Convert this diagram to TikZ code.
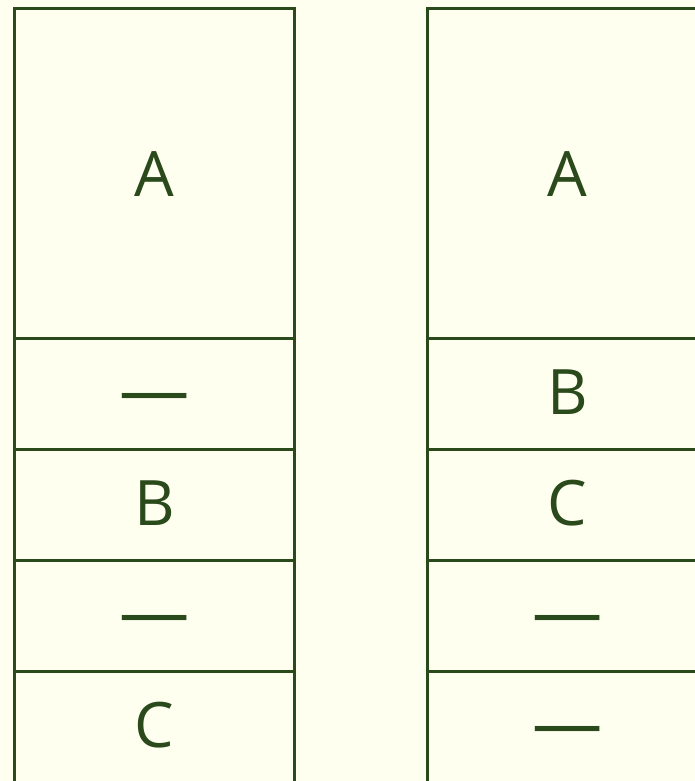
\documentclass[tikz,border=0pt]{standalone}
\usepackage{fontspec}
\setmainfont{Open Sans}
\definecolor{bg}{HTML}{FFFFF0}
\definecolor{ink}{HTML}{2A4A1C}
\newcommand{\wdash}{\scalebox{1.12}[1.1]{—}}
\begin{document}
\begin{tikzpicture}[x=0.75pt,y=-0.75pt,
  cell/.style={draw=ink,line width=2.2pt,inner sep=0pt,anchor=north west,
    minimum width=210pt,text=ink,font=\fontsize{47}{50}\selectfont,
    text depth=0pt},
  big/.style={cell,minimum height=247.5pt,text height=34.5pt},
  small/.style={cell,minimum height=83.25pt,text height=30.75pt}]
\fill[bg] (0,0) rectangle (695,781);
\useasboundingbox (0,0) rectangle (695,781);
\clip (0,0) rectangle (695,781);
\node[big]   (la) at (13,7)   {A};
\node[small] (l1) at (13,337) {\wdash};
\node[small] (lb) at (13,448) {B};
\node[small] (l2) at (13,559) {\wdash};
\node[small] (lc) at (13,670) {C};
\node[big]   (ra) at (426,7)   {A};
\node[small] (rb) at (426,337) {B};
\node[small] (rc) at (426,448) {C};
\node[small] (r1) at (426,559) {\wdash};
\node[small] (r2) at (426,670) {\wdash};
\end{tikzpicture}
\end{document}
